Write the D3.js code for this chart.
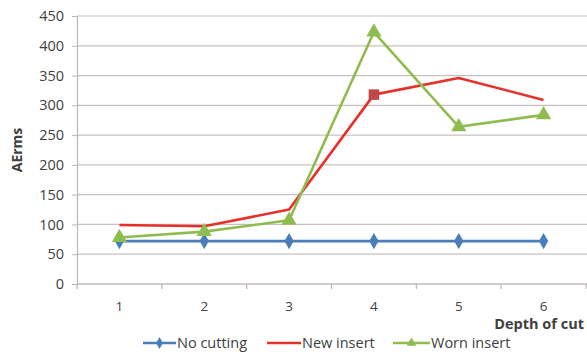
<!DOCTYPE html>
<html>
<head>
<meta charset="utf-8">
<script src="https://cdn.jsdelivr.net/npm/d3@7"></script>
<style>
  html, body { margin: 0; padding: 0; background: #fff; }
  svg { display: block; }
  text { font-family: "Open Sans", "Noto Sans", sans-serif; fill: #404040; }
</style>
</head>
<body>
<svg id="chart" width="587" height="354"></svg>
<script>
// Depth of cut categories and AErms readings per condition
const depths = ["1", "2", "3", "4", "5", "6"];
const noCutting = [72, 72, 72, 72, 72, 72];
const newInsert = [99, 97, 125, 318, 346, 309];
const wornInsert = [78, 88, 107, 423, 264, 284];
const yTicks = [0, 50, 100, 150, 200, 250, 300, 350, 400, 450];

const svg = d3.select("#chart");
const margin = { left: 77, right: 0, top: 16, bottom: 70 };
const W = 587, H = 354;

const x = d3.scaleBand().domain(depths).range([margin.left, W - 1]);
const y = d3.scaleLinear().domain([0, 450]).range([H - margin.bottom, margin.top]);
const cx = d => x(d) + x.bandwidth() / 2;

// horizontal gridlines
svg.append("g")
  .selectAll("line")
  .data(yTicks)
  .join("line")
  .attr("x1", margin.left).attr("x2", W)
  .attr("y1", d => y(d)).attr("y2", d => y(d))
  .attr("stroke", "#c9c1c1").attr("stroke-width", 1.2);

// y axis
const yAxis = svg.append("g")
  .attr("transform", `translate(${margin.left},0)`)
  .call(d3.axisLeft(y).tickValues(yTicks).tickSize(5).tickPadding(8));
yAxis.select(".domain").attr("stroke", "#bdb5b5").attr("stroke-width", 1.2);
yAxis.selectAll(".tick line").attr("stroke", "#bdb5b5");
yAxis.selectAll(".tick text").attr("font-size", 14.5).attr("fill", "#404040")
  .style("font-family", "'Open Sans', sans-serif");

// x axis with ticks between categories
const xAxis = svg.append("g")
  .attr("transform", `translate(0,${y(0)})`);
xAxis.append("line")
  .attr("x1", margin.left).attr("x2", W)
  .attr("stroke", "#bdb5b5").attr("stroke-width", 1.2);
const boundaries = depths.map(d => x(d)).concat([x(depths[depths.length - 1]) + x.bandwidth()]);
xAxis.selectAll("line.tk")
  .data(boundaries)
  .join("line")
  .attr("class", "tk")
  .attr("x1", d => d).attr("x2", d => d)
  .attr("y1", 0).attr("y2", 5)
  .attr("stroke", "#bdb5b5").attr("stroke-width", 1.2);
xAxis.selectAll("text.lbl")
  .data(depths)
  .join("text")
  .attr("class", "lbl")
  .attr("x", d => cx(d)).attr("y", 27)
  .attr("text-anchor", "middle")
  .attr("font-size", 13.5)
  .text(d => d);

// axis titles
svg.append("text")
  .attr("transform", `translate(22,${(y(0) + y(450)) / 2}) rotate(-90)`)
  .attr("text-anchor", "middle")
  .attr("font-size", 14).attr("font-weight", "bold").attr("fill", "#262626")
  .text("AErms");
svg.append("text")
  .attr("x", 584).attr("y", 329)
  .attr("text-anchor", "end")
  .attr("font-size", 14.5).attr("font-weight", "bold").attr("fill", "#262626")
  .text("Depth of cut");

const line = d3.line().x((d, i) => cx(depths[i])).y(d => y(d));

const series = [
  { name: "No cutting", values: noCutting, color: "#4a7ebb", marker: "diamond" },
  { name: "New insert", values: newInsert, color: "#e8302a", marker: "none" },
  { name: "Worn insert", values: wornInsert, color: "#8fbc4f", marker: "triangle" }
];

const sym = {
  diamond: d3.symbol().type(d3.symbolDiamond).size(75),
  triangle: d3.symbol().type(d3.symbolTriangle).size(100),
  square: d3.symbol().type(d3.symbolSquare).size(110)
};

series.forEach(s => {
  svg.append("path")
    .datum(s.values)
    .attr("d", line)
    .attr("fill", "none")
    .attr("stroke", s.color)
    .attr("stroke-width", 2.6)
    .attr("stroke-linejoin", "round");
  if (s.marker !== "none") {
    svg.append("g").selectAll("path")
      .data(s.values)
      .join("path")
      .attr("transform", (d, i) => `translate(${cx(depths[i])},${y(d)})`)
      .attr("d", sym[s.marker])
      .attr("fill", s.color);
  }
});

// highlighted reading on the new insert series at depth 4
svg.append("path")
  .attr("transform", `translate(${cx("4")},${y(newInsert[3])})`)
  .attr("d", sym.square)
  .attr("fill", "#c0474a");

// legend
const legendItems = [
  { s: series[0], x: 143, w: 33 },
  { s: series[1], x: 267, w: 34 },
  { s: series[2], x: 393, w: 37 }
];
const ly = 343;
legendItems.forEach(it => {
  const g = svg.append("g");
  g.append("line")
    .attr("x1", it.x).attr("x2", it.x + it.w)
    .attr("y1", ly).attr("y2", ly)
    .attr("stroke", it.s.color).attr("stroke-width", 2.6);
  if (it.s.marker !== "none") {
    g.append("path")
      .attr("transform", `translate(${it.x + it.w / 2},${ly})`)
      .attr("d", d3.symbol().type(it.s.marker === "diamond" ? d3.symbolDiamond : d3.symbolTriangle).size(40))
      .attr("fill", it.s.color);
  }
  g.append("text")
    .attr("x", it.x + it.w + 1).attr("y", ly + 5)
    .attr("font-size", 14.5)
    .text(it.s.name);
});
</script>
</body>
</html>
